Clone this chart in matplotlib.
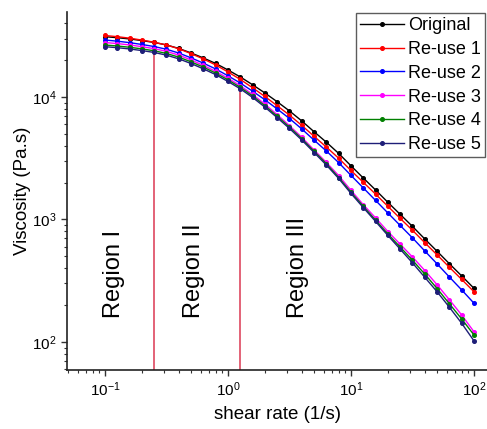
import numpy as np
import matplotlib
matplotlib.use("Agg")
import matplotlib.pyplot as plt
from matplotlib.ticker import LogLocator, NullFormatter

plt.rcParams['font.family'] = ['Liberation Sans', 'DejaVu Sans']
plt.rcParams['mathtext.fontset'] = 'custom'
plt.rcParams['mathtext.rm'] = 'Liberation Sans'
plt.rcParams['mathtext.it'] = 'Liberation Sans:italic'
plt.rcParams['mathtext.bf'] = 'Liberation Sans:bold'
plt.rcParams['axes.unicode_minus'] = False

# shear rate (1/s), 10 points per decade from 0.1 to 100
shear_rate = [0.1, 0.1259, 0.1585, 0.1995, 0.2512, 0.3162, 0.3981, 0.5012, 0.631, 0.7943,
              1.0, 1.259, 1.585, 1.995, 2.512, 3.162, 3.981, 5.012, 6.31, 7.943,
              10.0, 12.59, 15.85, 19.95, 25.12, 31.62, 39.81, 50.12, 63.1, 79.43, 100.0]

original = [31050, 30480, 29760, 28870, 27860, 26580, 24890, 22870, 20820, 18770,
            16610, 14570, 12580, 10780, 9140, 7690, 6370, 5200, 4270, 3460,
            2740, 2180, 1740, 1380, 1100, 877, 693, 550, 435, 346, 274]
reuse1 = [31760, 31060, 30210, 29140, 27970, 26580, 24750, 22570, 20430, 18250,
          16000, 13900, 11890, 10090, 8480, 7110, 5860, 4770, 3900, 3160,
          2510, 2010, 1610, 1280, 1020, 816, 646, 514, 407, 324, 257]
reuse2 = [29180, 28540, 27760, 26830, 25800, 24520, 22830, 20860, 18880, 16930,
          14890, 12990, 11150, 9490, 7980, 6670, 5480, 4440, 3620, 2910,
          2290, 1810, 1430, 1130, 893, 707, 553, 434, 339, 266, 207]
reuse3 = [27840, 27280, 26590, 25740, 24800, 23570, 21950, 20050, 18080, 16180,
          14210, 12350, 10480, 8740, 7170, 5830, 4680, 3690, 2920, 2280,
          1730, 1320, 1030, 797, 628, 494, 383, 293, 221, 166, 121]
reuse4 = [26560, 26080, 25460, 24700, 23830, 22660, 21140, 19350, 17520, 15670,
          13790, 11980, 10190, 8480, 6960, 5670, 4560, 3600, 2850, 2200,
          1670, 1280, 986, 762, 595, 465, 358, 273, 205, 154, 114]
reuse5 = [25730, 25260, 24660, 23920, 23090, 21940, 20470, 18740, 16960, 15210,
          13380, 11650, 9910, 8260, 6780, 5530, 4450, 3520, 2780, 2160,
          1630, 1250, 963, 740, 572, 442, 337, 257, 192, 142, 102]

series_labels = ['Original', 'Re-use 1', 'Re-use 2', 'Re-use 3', 'Re-use 4', 'Re-use 5']
series_values = [original, reuse1, reuse2, reuse3, reuse4, reuse5]
series_colors = ['#000000', '#ff0000', '#0000ff', '#ff00ff', '#008000', '#1e1e78']

boundary_x = [0.25, 1.25]
boundary_top = [23000, 11600]
region_labels = ['Region I', 'Region II', 'Region III']
region_x = [0.118, 0.53, 3.7]
region_y = 157

fig = plt.figure(figsize=(4.87, 4.29), dpi=100)
ax = fig.add_axes([67/487, (429-370)/429, (487-67)/487, (370-12)/429])

xlim = (0.0491, 127.6)
ylim = (59.0, 49400)

for lab, vals, col in zip(series_labels, series_values, series_colors):
    ax.plot(shear_rate, vals, '-', color=col, lw=1.0, marker='o', ms=2.6,
            mfc=col, mec=col, label=lab, zorder=3)

ax.vlines(boundary_x, ylim[0], boundary_top, color='#e0566c', lw=1.3, zorder=2)

for lab, xr in zip(region_labels, region_x):
    ax.text(xr, region_y, lab, rotation=90, ha='center', va='bottom', fontsize=17)

ax.set_xscale('log')
ax.set_yscale('log')
ax.set_xlim(*xlim)
ax.set_ylim(*ylim)

ax.xaxis.set_major_locator(LogLocator(base=10, numticks=10))
ax.yaxis.set_major_locator(LogLocator(base=10, numticks=10))
ax.xaxis.set_minor_locator(LogLocator(base=10, subs=np.arange(2, 10), numticks=20))
ax.yaxis.set_minor_locator(LogLocator(base=10, subs=np.arange(2, 10), numticks=20))
ax.xaxis.set_minor_formatter(NullFormatter())
ax.yaxis.set_minor_formatter(NullFormatter())

ax.tick_params(which='major', direction='out', length=4, width=1, labelsize=11, color='#333333')
ax.tick_params(which='minor', direction='out', length=2.5, width=0.8, color='#333333')

for s in ['top', 'right']:
    ax.spines[s].set_visible(False)
for s in ['left', 'bottom']:
    ax.spines[s].set_linewidth(1.2)
    ax.spines[s].set_color('#222222')

ax.set_xlabel('shear rate (1/s)', fontsize=13.5, labelpad=5)
ax.set_ylabel('Viscosity (Pa.s)', fontsize=13.5, labelpad=1)

leg = ax.legend(loc='upper right', bbox_to_anchor=(485/487, 1 - 13/429),
                bbox_transform=fig.transFigure, borderaxespad=0, fontsize=13,
                frameon=True, fancybox=False, edgecolor='#333333',
                handlelength=2.4, handletextpad=0.25, labelspacing=0.38,
                borderpad=0.22, markerscale=1.0)
leg.get_frame().set_linewidth(1.0)

fig.savefig('out.png', dpi=100)
